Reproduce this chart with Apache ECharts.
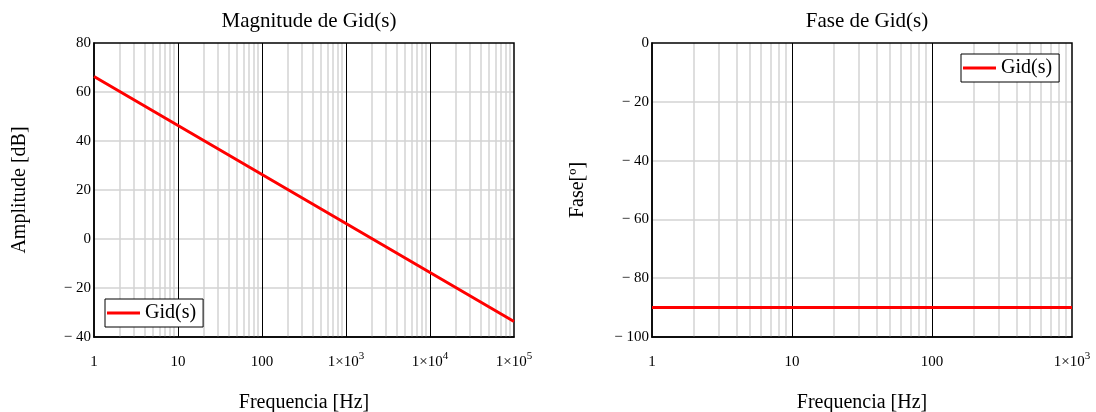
<!DOCTYPE html>
<html>
<head>
<meta charset="utf-8">
<script src="https://cdn.jsdelivr.net/npm/echarts@6/dist/echarts.min.js"></script>
<style>
  html, body { margin: 0; padding: 0; background: #fff; }
  #chart { width: 1096px; height: 412px; }
</style>
</head>
<body>
<div id="chart"></div>
<script>
// Magnitude (dB) per decade
const magFreq = [1, 10, 100, 1000, 10000, 100000];
const magDb = [66.3, 46.3, 26.3, 6.3, -13.7, -33.7];

// Phase (degrees)
const phaseFreq = [1, 10, 100, 1000];
const phaseDeg = [-90, -90, -90, -90];

// minor log grid multipliers inside each decade
const minorSteps = [2, 3, 4, 5, 6, 7, 8, 9];

const FONT = 'Liberation Serif';
const RED = '#ff0000';
const GRID_GRAY = '#d3d3d3';

const minorLines = (maxFreq) => {
  const out = [];
  for (let d = 1; d < maxFreq; d *= 10) {
    minorSteps.forEach((m) => out.push({ xAxis: d * m }));
  }
  return out;
};

const yLabel = (v) => (v < 0 ? '\u2212 ' + Math.abs(v) : String(v));
const xLabel = (v) => {
  const e = Math.round(Math.log10(v));
  if (e <= 2) return String(Math.round(v));
  return '1\u00d710{sup|' + e + '}';
};

const xAxisBase = (gridIndex, max) => ({
  type: 'log',
  logBase: 10,
  gridIndex,
  min: 1,
  max,
  splitNumber: 8,
  name: 'Frequencia [Hz]',
  nameLocation: 'middle',
  nameGap: 56,
  nameTextStyle: { fontFamily: FONT, fontSize: 20, color: '#000' },
  axisLine: { show: true, onZero: false, lineStyle: { color: '#000', width: 1.5 } },
  axisTick: { show: false },
  axisLabel: {
    fontFamily: FONT,
    fontSize: 15,
    color: '#000',
    margin: 12,
    lineHeight: 26,
    formatter: xLabel,
    rich: {
      sup: { fontFamily: FONT, fontSize: 11, color: '#000', padding: [0, 0, 12, 0] },
    },
  },
  splitLine: {
    show: true,
    showMinLine: false,
    showMaxLine: false,
    lineStyle: { color: '#000', width: 1 },
  },
});

const yAxisBase = (gridIndex, min, max, name) => ({
  type: 'value',
  gridIndex,
  min,
  max,
  interval: 20,
  name,
  nameLocation: 'middle',
  nameGap: 64,
  nameTextStyle: { fontFamily: FONT, fontSize: 20, color: '#000' },
  axisLine: { show: true, onZero: false, lineStyle: { color: '#000', width: 1.5 } },
  axisTick: { show: false },
  axisLabel: { fontFamily: FONT, fontSize: 15, color: '#000', margin: 3, formatter: yLabel },
  splitLine: {
    show: true,
    showMinLine: false,
    showMaxLine: false,
    lineStyle: { color: GRID_GRAY, width: 1.5 },
  },
});

const gridSeries = (idx, maxFreq) => ({
  type: 'line',
  name: 'grid' + idx,
  xAxisIndex: idx,
  yAxisIndex: idx,
  data: [],
  silent: true,
  z: 1,
  markLine: {
    silent: true,
    z: 1,
    symbol: 'none',
    label: { show: false },
    animation: false,
    lineStyle: { color: GRID_GRAY, width: 1.5, type: 'solid' },
    data: minorLines(maxFreq),
  },
});

const legendBase = (left, top) => ({
  data: [{ name: 'Gid(s)', icon: 'rect' }],
  left,
  top,
  orient: 'vertical',
  itemWidth: 33,
  itemHeight: 3,
  padding: [4, 7, 4, 2],
  borderColor: '#000',
  borderWidth: 1,
  borderRadius: 0,
  backgroundColor: '#fff',
  selectedMode: false,
  z: 10,
  textStyle: { fontFamily: FONT, fontSize: 20, color: '#000' },
});

const gridBase = (left) => ({
  left,
  top: 43,
  width: 420,
  height: 294,
  outerBoundsMode: 'none',
  containLabel: false,
  show: true,
  borderColor: '#000',
  borderWidth: 1.5,
  backgroundColor: 'transparent',
  z: 5,
});

const option = {
  animation: false,
  backgroundColor: '#fff',
  title: [
    {
      text: 'Magnitude de Gid(s)',
      left: 304,
      top: 6,
      textAlign: 'center',
      textStyle: { fontFamily: FONT, fontSize: 21, fontWeight: 'normal', color: '#000' },
    },
    {
      text: 'Fase de Gid(s)',
      left: 862,
      top: 6,
      textAlign: 'center',
      textStyle: { fontFamily: FONT, fontSize: 21, fontWeight: 'normal', color: '#000' },
    },
  ],
  legend: [legendBase(105, 299), legendBase(961, 54)],
  grid: [gridBase(94), gridBase(652)],
  xAxis: [xAxisBase(0, 100000), xAxisBase(1, 1000)],
  yAxis: [yAxisBase(0, -40, 80, 'Amplitude [dB]'), yAxisBase(1, -100, 0, 'Fase[º]')],
  series: [
    gridSeries(0, 100000),
    gridSeries(1, 1000),
    {
      type: 'line',
      name: 'Gid(s)',
      xAxisIndex: 0,
      yAxisIndex: 0,
      data: magFreq.map((f, i) => [f, magDb[i]]),
      symbol: 'none',
      z: 6,
      lineStyle: { color: RED, width: 3 },
      itemStyle: { color: RED },
    },
    {
      type: 'line',
      name: 'Gid(s)',
      xAxisIndex: 1,
      yAxisIndex: 1,
      data: phaseFreq.map((f, i) => [f, phaseDeg[i]]),
      symbol: 'none',
      z: 6,
      lineStyle: { color: RED, width: 3 },
      itemStyle: { color: RED },
    },
  ],
};

const chart = echarts.init(document.getElementById('chart'));
chart.setOption(option);
</script>
</body>
</html>
